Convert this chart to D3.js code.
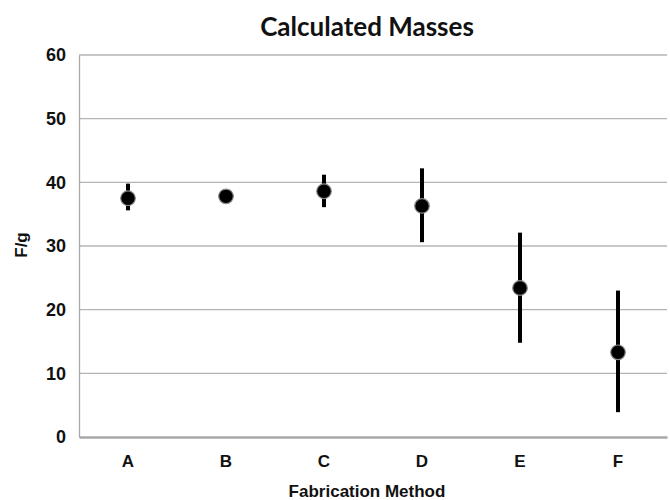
<!DOCTYPE html>
<html><head><meta charset="utf-8">
<script src="https://cdn.jsdelivr.net/npm/d3@7"></script>
<style>body{margin:0;background:#fff}</style>
</head><body>
<svg id="c" width="670" height="500"></svg>
<script>
const categories = ["A","B","C","D","E","F"];
const means = [37.5, 37.8, 38.6, 36.3, 23.4, 13.3];
const errLow = [35.6, 37.8, 36.1, 30.6, 14.8, 3.9];
const errHigh = [39.8, 37.8, 41.2, 42.2, 32.1, 23.0];
const yTicks = [0,10,20,30,40,50,60];

const svg = d3.select("#c");
const m = {l:79, r:667, t:55, b:437};
const x = d3.scaleBand().domain(categories).range([m.l, m.r]);
const y = d3.scaleLinear().domain([0,60]).range([m.b, m.t]);
const font = "Liberation Sans, Arial, sans-serif";

// gridlines
svg.append("g").selectAll("line").data(yTicks.filter(d=>d>0)).join("line")
  .attr("x1", m.l).attr("x2", m.r).attr("y1", d=>y(d)).attr("y2", d=>y(d))
  .attr("stroke", "#b4b4b4").attr("stroke-width", 1.3);

// y axis
const ya = svg.append("g").attr("transform", `translate(${m.l},0)`)
  .call(d3.axisLeft(y).tickValues(yTicks).tickSize(0).tickPadding(13));
ya.select(".domain").attr("stroke", "#a8a8a8").attr("stroke-width", 1.3);
ya.selectAll("text").attr("font-family", font).attr("font-weight", "bold")
  .attr("font-size", 18).attr("fill", "#111");

// x axis
const xa = svg.append("g").attr("transform", `translate(0,${m.b})`)
  .call(d3.axisBottom(x).tickSize(0).tickPadding(18));
xa.select(".domain").attr("stroke", "#a8a8a8").attr("stroke-width", 2.5);
xa.selectAll("text").attr("font-family", font).attr("font-weight", "bold")
  .attr("font-size", 17).attr("fill", "#111");

// error bars
const cx = d => x(d) + x.bandwidth()/2;
svg.append("g").selectAll("line").data(categories).join("line")
  .attr("x1", cx).attr("x2", cx)
  .attr("y1", (d,i)=>y(errHigh[i])).attr("y2", (d,i)=>y(errLow[i]))
  .attr("stroke", "#000").attr("stroke-width", 4);

// markers
svg.append("g").selectAll("circle").data(categories).join("circle")
  .attr("cx", cx).attr("cy", (d,i)=>y(means[i])).attr("r", 7.3)
  .attr("fill", "#000").attr("stroke", "#888").attr("stroke-width", 1.2);

// title
svg.append("text").attr("x", 367).attr("y", 36).attr("text-anchor", "middle")
  .attr("font-family", "Lato, Open Sans, sans-serif").attr("font-weight", "bold")
  .attr("font-size", 26).attr("fill", "#111").text("Calculated Masses");

// axis titles
svg.append("text").attr("x", 367).attr("y", 497).attr("text-anchor", "middle")
  .attr("font-family", font).attr("font-weight", "bold")
  .attr("font-size", 17).attr("fill", "#111").text("Fabrication Method");
svg.append("text").attr("transform", "translate(27,245) rotate(-90)").attr("text-anchor", "middle")
  .attr("font-family", font).attr("font-weight", "bold")
  .attr("font-size", 17).attr("fill", "#111").text("F/g");
</script>
</body></html>
